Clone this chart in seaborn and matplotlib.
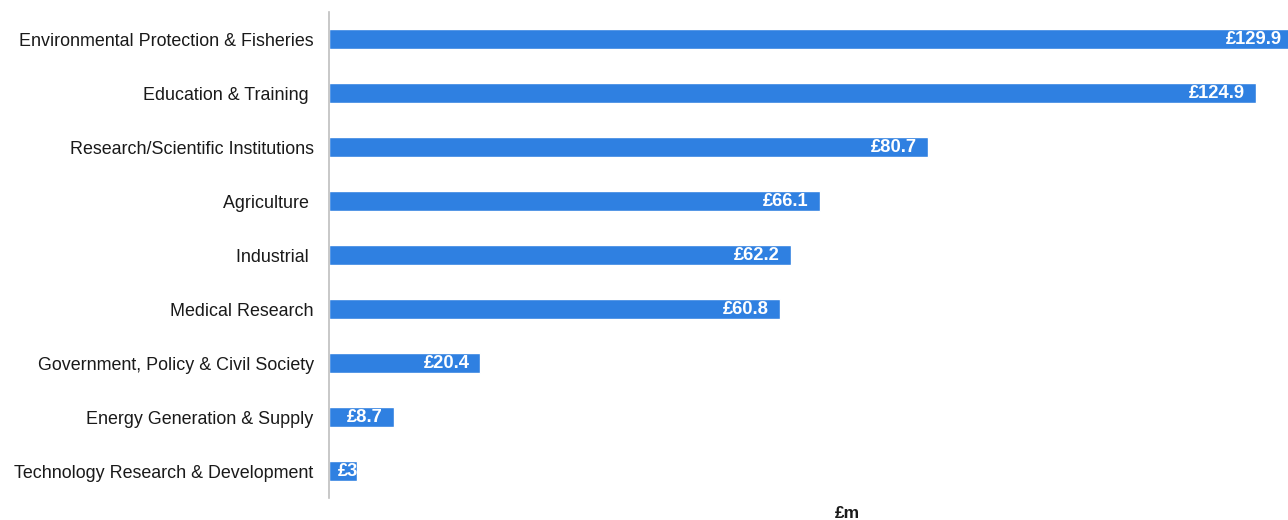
import matplotlib
matplotlib.use("Agg")
import matplotlib.pyplot as plt
import seaborn as sns
import pandas as pd

categories = [
    "Environmental Protection & Fisheries",
    "Education & Training ",
    "Research/Scientific Institutions",
    "Agriculture ",
    "Industrial ",
    "Medical Research",
    "Government, Policy & Civil Society",
    "Energy Generation & Supply",
    "Technology Research & Development",
]
values = [129.9, 124.9, 80.7, 66.1, 62.2, 60.8, 20.4, 8.7, 3.8]
value_labels = ["£129.9", "£124.9", "£80.7", "£66.1", "£62.2", "£60.8", "£20.4", "£8.7", "£3.8"]
x_label = "£m"

sns.set_theme(style="white")
plt.rcParams["font.family"] = ["Liberation Sans", "DejaVu Sans"]

df = pd.DataFrame({"category": categories, "value": values})

fig = plt.figure(figsize=(12.88, 5.2), dpi=100)
ax = fig.add_axes([329 / 1288, 22 / 520, 964 / 1288, 486 / 520])

sns.barplot(data=df, x="value", y="category", orient="h", color="#2F80E1",
            saturation=1, width=0.36, ax=ax)

ax.set_xlim(0, 129.9)
ax.set_ylim(8.5, -0.5)

for s in ["top", "right", "bottom"]:
    ax.spines[s].set_visible(False)
ax.spines["left"].set_color("#BFBFBF")
ax.spines["left"].set_linewidth(1.2)

ax.set_xticks([])
ax.set_ylabel("")
ax.tick_params(axis="y", length=0, pad=11, labelsize=12.9, labelcolor="#1a1a1a")
ax.set_xlabel(x_label, fontweight="bold", fontsize=12.5, color="#1a1a1a")
ax.xaxis.set_label_coords(0.538, -0.031)
ax.xaxis.label.set_va("center")

fig.canvas.draw()
renderer = fig.canvas.get_renderer()
ax_left_px = ax.get_window_extent(renderer).x0
for i, (v, lab) in enumerate(zip(values, value_labels)):
    t = ax.annotate(lab, xy=(v, i), xytext=(-11, 0), textcoords="offset pixels",
                    ha="right", va="center", color="white", fontweight="bold",
                    fontsize=13.2, annotation_clip=False)
    bb = t.get_window_extent(renderer)
    if bb.x0 < ax_left_px + 9:
        t.remove()
        ax.annotate(lab, xy=(0, i), xytext=(9, 0), textcoords="offset pixels",
                    ha="left", va="center", color="white", fontweight="bold",
                    fontsize=13.2, annotation_clip=False)

fig.savefig("out.png", dpi=100)
